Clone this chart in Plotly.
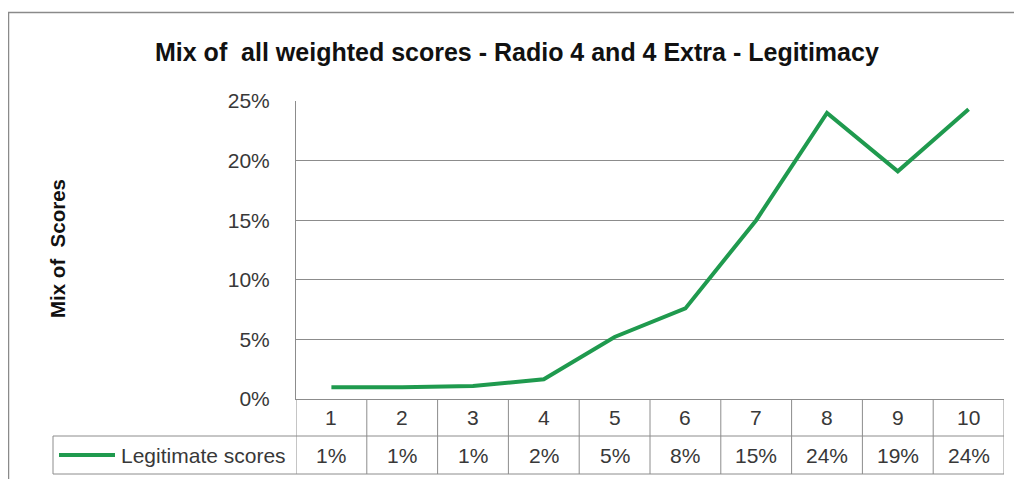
import plotly.graph_objects as go

categories = ["1", "2", "3", "4", "5", "6", "7", "8", "9", "10"]
legitimate_scores = [0.0098, 0.0098, 0.011, 0.0165, 0.052, 0.076, 0.150, 0.240, 0.191, 0.243]
table_labels = ["1%", "1%", "1%", "2%", "5%", "8%", "15%", "24%", "19%", "24%"]
y_ticks = [0, 0.05, 0.10, 0.15, 0.20, 0.25]
y_tick_labels = ["0%", "5%", "10%", "15%", "20%", "25%"]
series_name = "Legitimate scores"
title_text = "Mix of  all weighted scores - Radio 4 and 4 Extra - Legitimacy"
y_title = "Mix of  Scores"

GREEN = "#1F9A4E"
GRID = "#8C8C8C"
TXT = "#383838"
FONT = "Liberation Sans"

OFF = 8  # page body margin
W, H = 1022 - OFF, 479 - OFF
# target page coordinates of plot area
P_LEFT, P_RIGHT, P_TOP, P_BOT = 296, 1004, 101, 399
ML = P_LEFT - OFF
MT = P_TOP - OFF
MR = W - (P_RIGHT - OFF)
MB = H - (P_BOT - OFF)
PW = P_RIGHT - P_LEFT
PH = P_BOT - P_TOP


def py(Y):
    return (P_BOT - Y) / PH


def px(X):
    return (X - P_LEFT) / PW


fig = go.Figure()
fig.add_trace(go.Scatter(
    x=list(range(len(categories))), y=legitimate_scores, mode="lines",
    line=dict(color=GREEN, width=4), name=series_name, showlegend=False,
    hoverinfo="skip",
))

n = len(categories)
shapes = []
y_row1_bot = py(436)
y_row2_bot = py(474)
for i in range(n + 1):
    shapes.append(dict(type="line", xref="x", yref="paper", x0=i - 0.5, x1=i - 0.5,
                       y0=0, y1=y_row2_bot, line=dict(color=GRID, width=1)))
for yy in (y_row1_bot, y_row2_bot):
    shapes.append(dict(type="line", xref="paper", yref="paper", x0=px(53), x1=1,
                       y0=yy, y1=yy, line=dict(color=GRID, width=1)))
shapes.append(dict(type="line", xref="paper", yref="paper", x0=px(53), x1=px(53),
                   y0=y_row1_bot, y1=y_row2_bot, line=dict(color=GRID, width=1)))
shapes.append(dict(type="line", xref="paper", yref="paper", x0=px(59), x1=px(115),
                   y0=py(455), y1=py(455), line=dict(color=GREEN, width=4)))
shapes.append(dict(type="rect", xref="paper", yref="paper", x0=px(8.5), x1=px(1040),
                   y0=py(12.5), y1=py(520), line=dict(color="#8A8A8A", width=1.5)))

annotations = []
for i, c in enumerate(categories):
    annotations.append(dict(x=i, y=py(417), xref="x", yref="paper", text=c,
                            showarrow=False, font=dict(family=FONT, size=21, color=TXT),
                            xanchor="center", yanchor="middle"))
    annotations.append(dict(x=i, y=py(455), xref="x", yref="paper", text=table_labels[i],
                            showarrow=False, font=dict(family=FONT, size=21, color=TXT),
                            xanchor="center", yanchor="middle"))
annotations.append(dict(x=px(288), y=py(455), xref="paper", yref="paper", text=series_name,
                        showarrow=False, font=dict(family=FONT, size=21, color=TXT),
                        xanchor="right", yanchor="middle"))
annotations.append(dict(x=px(58), y=py(249), xref="paper", yref="paper", text="<b>" + y_title + "</b>",
                        showarrow=False, textangle=-90, font=dict(family=FONT, size=20.5, color="#111"),
                        xanchor="center", yanchor="middle"))
annotations.append(dict(x=px(517), y=py(52), xref="paper", yref="paper", text="<b>" + title_text + "</b>",
                        showarrow=False, font=dict(family=FONT, size=25, color="#111"),
                        xanchor="center", yanchor="middle"))

fig.update_layout(
    width=W, height=H,
    margin=dict(l=ML, r=MR, t=MT, b=MB),
    paper_bgcolor="white", plot_bgcolor="white",
    xaxis=dict(range=[-0.5, n - 0.5], showticklabels=False, showgrid=False,
               zeroline=False, showline=True, linecolor=GRID, linewidth=1, ticks=""),
    yaxis=dict(range=[0, 0.25], tickvals=y_ticks, ticktext=y_tick_labels,
               showgrid=True, gridcolor=GRID, gridwidth=1, zeroline=False,
               showline=True, linecolor=GRID, linewidth=1, ticks="",
               ticklabelstandoff=21,
               tickfont=dict(family=FONT, size=21, color=TXT)),
    shapes=shapes, annotations=annotations, showlegend=False,
)

fig.write_html("out.html")
